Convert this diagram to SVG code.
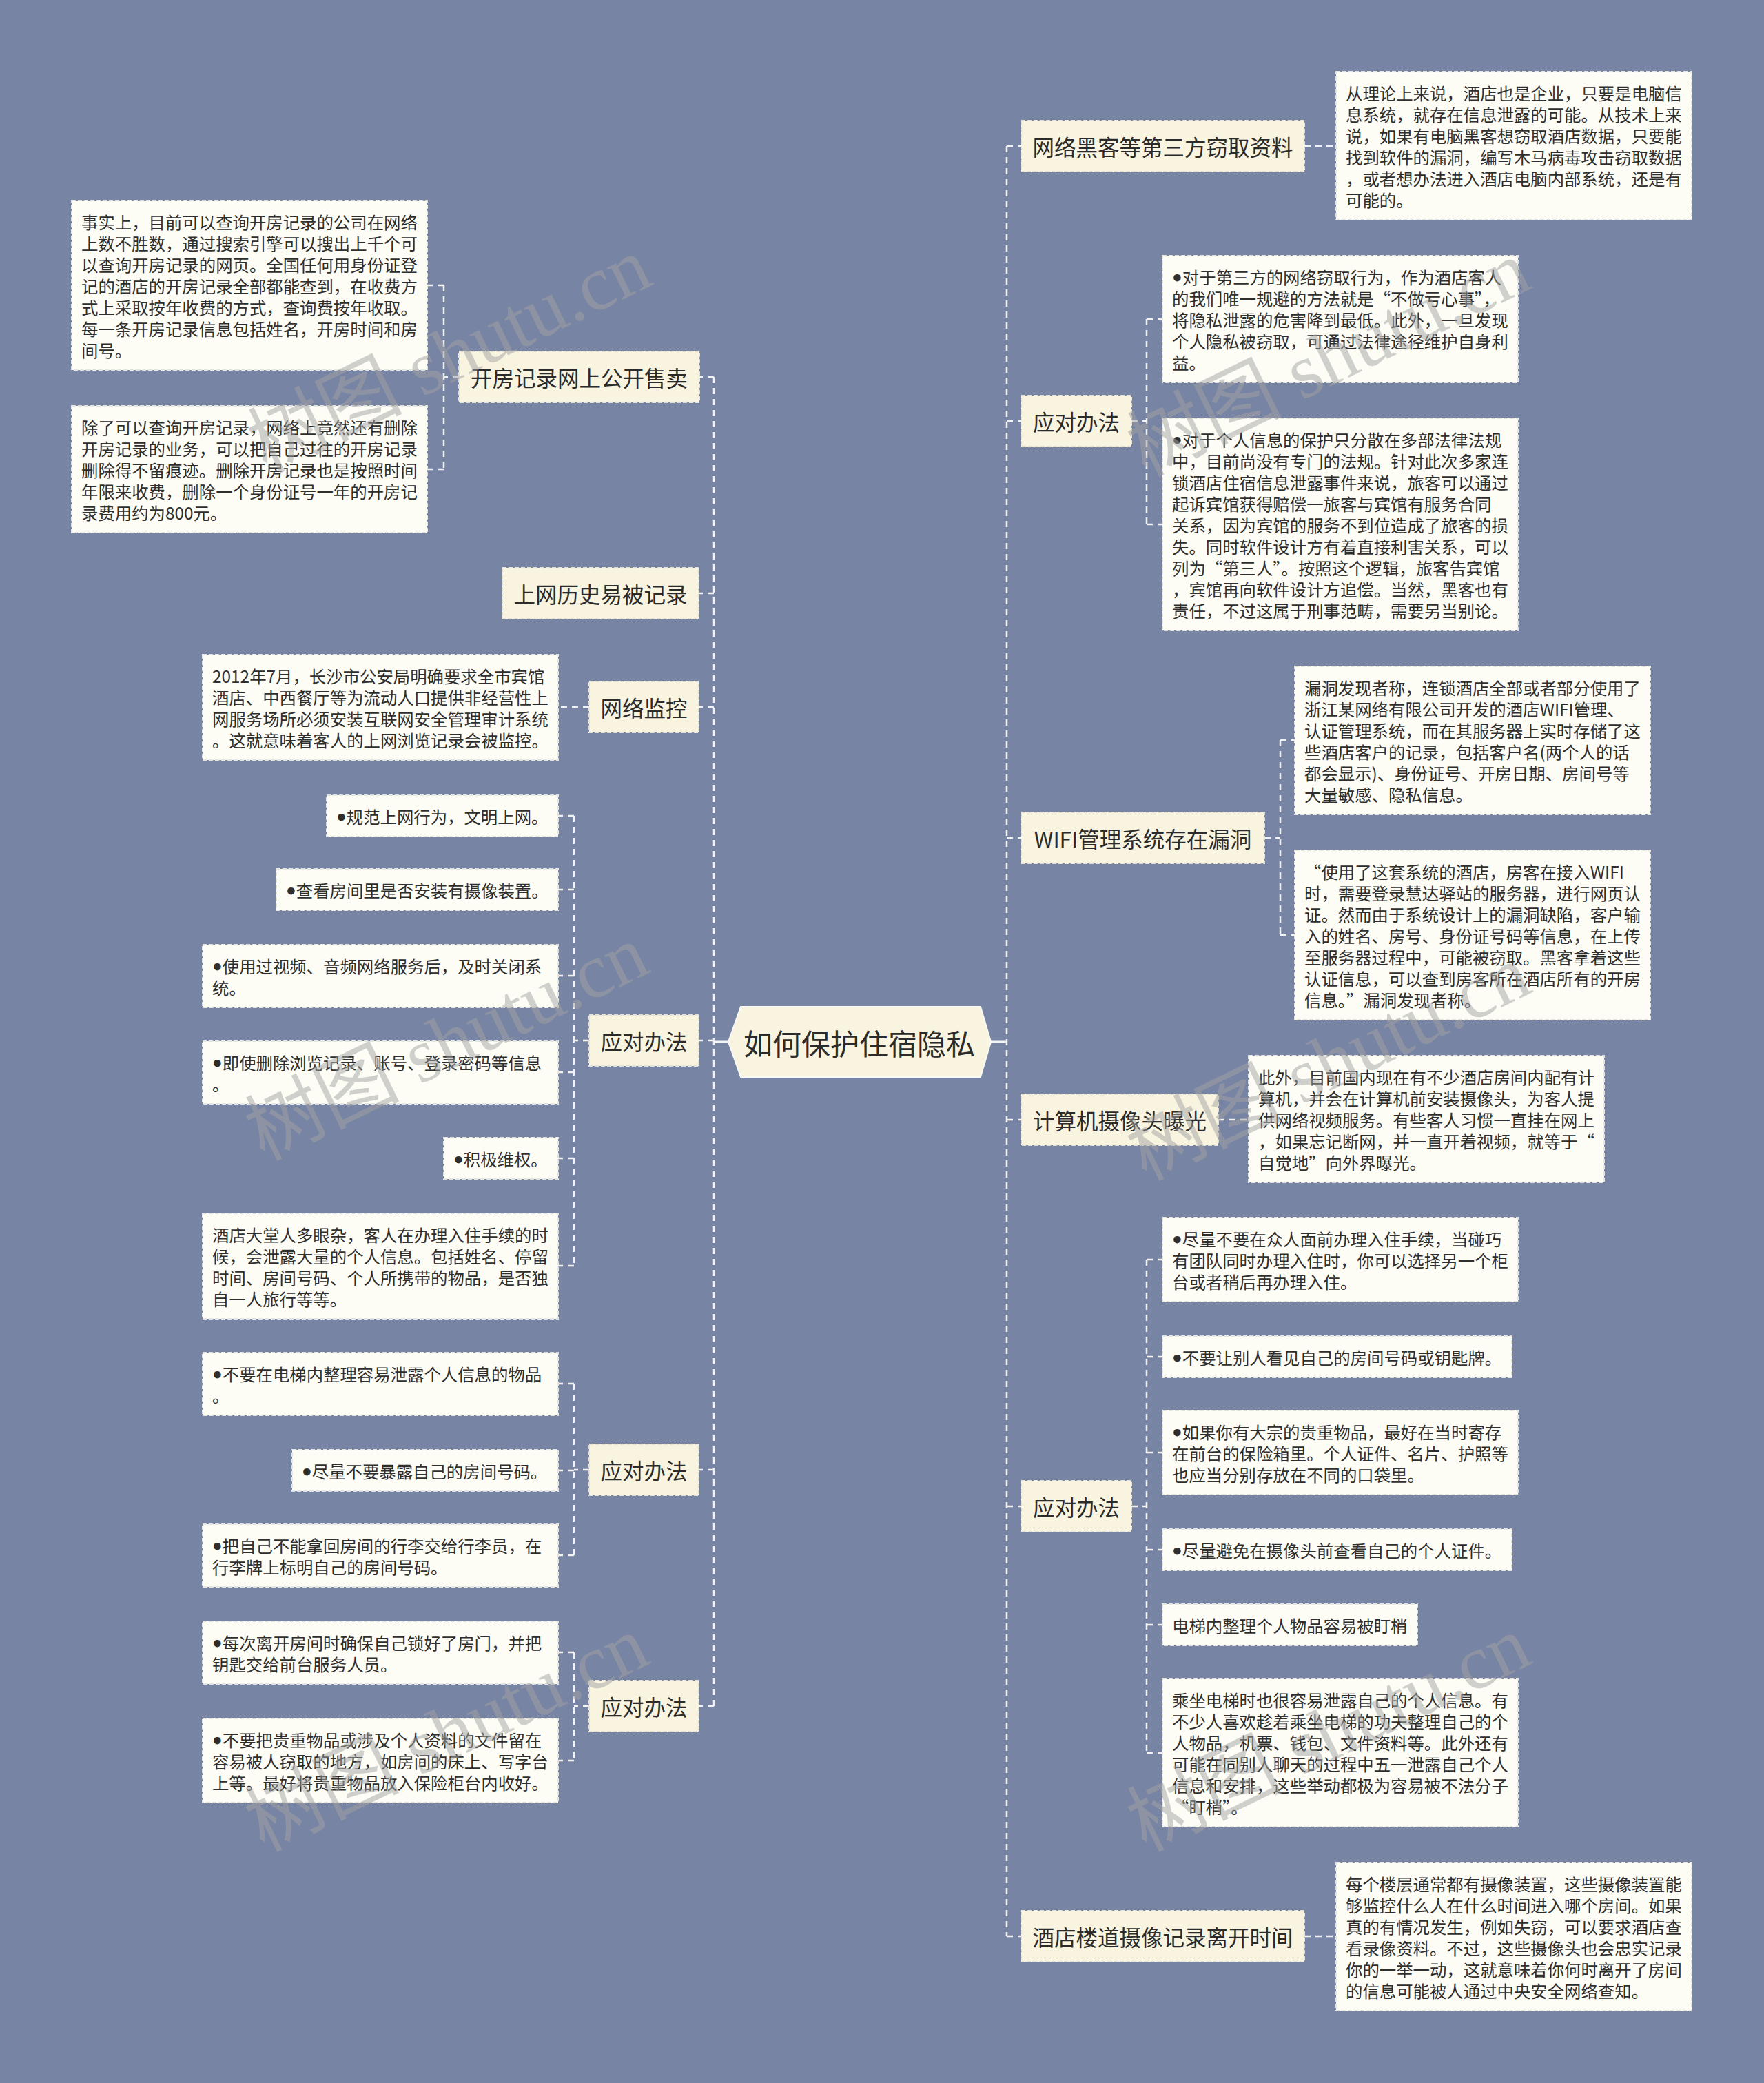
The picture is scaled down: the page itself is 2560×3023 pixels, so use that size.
<svg xmlns="http://www.w3.org/2000/svg" width="2560" height="3023" viewBox="0 0 2560 3023">
<style>
.br{fill:#f8f4e0;stroke:#e4e2d6;stroke-width:2;stroke-dasharray:6 3}
.lf{fill:#fdfdf6;stroke:#e4e4e0;stroke-width:2;stroke-dasharray:6 3}
.ct{fill:#f8f4e0;stroke:#fbfaf2;stroke-width:2}
.bt{font-family:"Noto Sans CJK SC","Liberation Sans",sans-serif;font-size:31.5px;fill:#2b2b2b;text-anchor:middle;dominant-baseline:central}
.lt{font-family:"Noto Sans CJK SC","Liberation Sans",sans-serif;font-size:24.4px;fill:#2e2e2e;dominant-baseline:central}
.b{font-family:"Liberation Sans","DejaVu Sans",sans-serif}
.cn{fill:none;stroke:#f2f2f2;stroke-width:2.5;stroke-dasharray:9 7}
.sl{fill:none;stroke:#f4f4f4;stroke-width:3}
.wm{font-family:"Liberation Serif","Noto Sans CJK SC",serif;font-size:112px;fill:#a3a3a3;opacity:0.5;text-anchor:middle;dominant-baseline:central}
</style>
<rect width="2560" height="3023" fill="#7784a4"/>

<g id="connectors">
<path class="sl" d="M1036 1512H1057M1438 1512H1461"/>
<path class="cn" d="M1461 212V2810M1461 212H1482M1461 611H1482M1461 1216H1482M1461 1625H1482M1461 2186H1482M1461 2810H1482"/>
<path class="cn" d="M1893 212H1939"/>
<path class="cn" d="M1642 611H1664M1664 463V761M1664 463H1687M1664 761H1687"/>
<path class="cn" d="M1835 1216H1858M1858 1074V1357M1858 1074H1879M1858 1357H1879"/>
<path class="cn" d="M1768 1625H1812"/>
<path class="cn" d="M1642 2186H1664M1664 1828V2544M1664 1828H1687M1664 1969H1687M1664 2108H1687M1664 2249H1687M1664 2358H1687M1664 2544H1687"/>
<path class="cn" d="M1893 2810H1939"/>
<path class="cn" d="M1036 547V2476M1036 547H1014M1036 861H1014M1036 1026H1014M1036 1510H1014M1036 2133H1014M1036 2476H1014"/>
<path class="cn" d="M666 547H644M644 414V681M644 414H620M644 681H620"/>
<path class="cn" d="M855 1026H810"/>
<path class="cn" d="M855 1510H833M833 1184V1837M833 1184H810M833 1291H810M833 1416H810M833 1556H810M833 1681H810M833 1837H810"/>
<path class="cn" d="M855 2133H833M833 2008V2257M833 2008H810M833 2134H810M833 2257H810"/>
<path class="cn" d="M855 2476H833M833 2398V2555M833 2398H810M833 2555H810"/>
</g>

<g id="center">
<polygon class="ct" points="1057,1512 1075,1461 1423,1461 1438,1512 1423,1563 1075,1563"/>
<text class="bt" x="1247" y="1512" style="font-size:42px">如何保护住宿隐私</text>
</g>

<g id="r-hacker">
<rect class="br" x="1482" y="175" width="411" height="74"/>
<text class="bt" x="1687.5" y="212">网络黑客等第三方窃取资料</text>
</g>
<g id="r-hacker-text">
<rect class="lf" x="1939" y="104" width="516" height="215"/>
<text class="lt" x="1953" y="134"><tspan x="1953">从理论上来说，酒店也是企业，只要是电脑信</tspan><tspan x="1953" dy="31">息系统，就存在信息泄露的可能。从技术上来</tspan><tspan x="1953" dy="31">说，如果有电脑黑客想窃取酒店数据，只要能</tspan><tspan x="1953" dy="31">找到软件的漏洞，编写木马病毒攻击窃取数据</tspan><tspan x="1953" dy="31">，或者想办法进入酒店电脑内部系统，还是有</tspan><tspan x="1953" dy="31">可能的。</tspan></text>
</g>

<g id="r-yd1">
<rect class="br" x="1482" y="574" width="160" height="74"/>
<text class="bt" x="1562" y="611">应对办法</text>
</g>
<g id="r-yd1-a">
<rect class="lf" x="1687" y="371" width="516" height="184"/>
<text class="lt" x="1701" y="401"><tspan x="1701"><tspan class="b">●</tspan>对于第三方的网络窃取行为，作为酒店客人</tspan><tspan x="1701" dy="31">的我们唯一规避的方法就是“不做亏心事”，</tspan><tspan x="1701" dy="31">将隐私泄露的危害降到最低。此外，一旦发现</tspan><tspan x="1701" dy="31">个人隐私被窃取，可通过法律途径维护自身利</tspan><tspan x="1701" dy="31">益。</tspan></text>
</g>
<g id="r-yd1-b">
<rect class="lf" x="1687" y="607" width="516" height="308"/>
<text class="lt" x="1701" y="637"><tspan x="1701"><tspan class="b">●</tspan>对于个人信息的保护只分散在多部法律法规</tspan><tspan x="1701" dy="31">中，目前尚没有专门的法规。针对此次多家连</tspan><tspan x="1701" dy="31">锁酒店住宿信息泄露事件来说，旅客可以通过</tspan><tspan x="1701" dy="31">起诉宾馆获得赔偿一旅客与宾馆有服务合同</tspan><tspan x="1701" dy="31">关系，因为宾馆的服务不到位造成了旅客的损</tspan><tspan x="1701" dy="31">失。同时软件设计方有着直接利害关系，可以</tspan><tspan x="1701" dy="31">列为“第三人”。按照这个逻辑，旅客告宾馆</tspan><tspan x="1701" dy="31">，宾馆再向软件设计方追偿。当然，黑客也有</tspan><tspan x="1701" dy="31">责任，不过这属于刑事范畴，需要另当别论。</tspan></text>
</g>

<g id="r-wifi">
<rect class="br" x="1482" y="1179" width="353" height="74"/>
<text class="bt" x="1658.5" y="1216">WIFI管理系统存在漏洞</text>
</g>
<g id="r-wifi-a">
<rect class="lf" x="1879" y="967" width="516" height="215"/>
<text class="lt" x="1893" y="997"><tspan x="1893">漏洞发现者称，连锁酒店全部或者部分使用了</tspan><tspan x="1893" dy="31">浙江某网络有限公司开发的酒店WIFI管理、</tspan><tspan x="1893" dy="31">认证管理系统，而在其服务器上实时存储了这</tspan><tspan x="1893" dy="31">些酒店客户的记录，包括客户名(两个人的话</tspan><tspan x="1893" dy="31">都会显示)、身份证号、开房日期、房间号等</tspan><tspan x="1893" dy="31">大量敏感、隐私信息。</tspan></text>
</g>
<g id="r-wifi-b">
<rect class="lf" x="1879" y="1234" width="516" height="246"/>
<text class="lt" x="1893" y="1264"><tspan x="1893">“使用了这套系统的酒店，房客在接入WIFI</tspan><tspan x="1893" dy="31">时，需要登录慧达驿站的服务器，进行网页认</tspan><tspan x="1893" dy="31">证。然而由于系统设计上的漏洞缺陷，客户输</tspan><tspan x="1893" dy="31">入的姓名、房号、身份证号码等信息，在上传</tspan><tspan x="1893" dy="31">至服务器过程中，可能被窃取。黑客拿着这些</tspan><tspan x="1893" dy="31">认证信息，可以查到房客所在酒店所有的开房</tspan><tspan x="1893" dy="31">信息。”漏洞发现者称。</tspan></text>
</g>

<g id="r-cam">
<rect class="br" x="1482" y="1588" width="286" height="74"/>
<text class="bt" x="1625" y="1625">计算机摄像头曝光</text>
</g>
<g id="r-cam-a">
<rect class="lf" x="1812" y="1532" width="516" height="184"/>
<text class="lt" x="1826" y="1562"><tspan x="1826">此外，目前国内现在有不少酒店房间内配有计</tspan><tspan x="1826" dy="31">算机，并会在计算机前安装摄像头，为客人提</tspan><tspan x="1826" dy="31">供网络视频服务。有些客人习惯一直挂在网上</tspan><tspan x="1826" dy="31">，如果忘记断网，并一直开着视频，就等于“</tspan><tspan x="1826" dy="31">自觉地”向外界曝光。</tspan></text>
</g>

<g id="r-yd2">
<rect class="br" x="1482" y="2149" width="160" height="74"/>
<text class="bt" x="1562" y="2186">应对办法</text>
</g>
<g id="r-yd2-a">
<rect class="lf" x="1687" y="1767" width="516" height="122"/>
<text class="lt" x="1701" y="1797"><tspan x="1701"><tspan class="b">●</tspan>尽量不要在众人面前办理入住手续，当碰巧</tspan><tspan x="1701" dy="31">有团队同时办理入住时，你可以选择另一个柜</tspan><tspan x="1701" dy="31">台或者稍后再办理入住。</tspan></text>
</g>
<g id="r-yd2-b">
<rect class="lf" x="1687" y="1939" width="507" height="60"/>
<text class="lt" x="1701" y="1969"><tspan class="b">●</tspan>不要让别人看见自己的房间号码或钥匙牌。</text>
</g>
<g id="r-yd2-c">
<rect class="lf" x="1687" y="2047" width="516" height="122"/>
<text class="lt" x="1701" y="2077"><tspan x="1701"><tspan class="b">●</tspan>如果你有大宗的贵重物品，最好在当时寄存</tspan><tspan x="1701" dy="31">在前台的保险箱里。个人证件、名片、护照等</tspan><tspan x="1701" dy="31">也应当分别存放在不同的口袋里。</tspan></text>
</g>
<g id="r-yd2-d">
<rect class="lf" x="1687" y="2219" width="507" height="60"/>
<text class="lt" x="1701" y="2249"><tspan class="b">●</tspan>尽量避免在摄像头前查看自己的个人证件。</text>
</g>
<g id="r-yd2-e">
<rect class="lf" x="1687" y="2328" width="370" height="60"/>
<text class="lt" x="1701" y="2358">电梯内整理个人物品容易被盯梢</text>
</g>
<g id="r-yd2-f">
<rect class="lf" x="1687" y="2436" width="516" height="215"/>
<text class="lt" x="1701" y="2466"><tspan x="1701">乘坐电梯时也很容易泄露自己的个人信息。有</tspan><tspan x="1701" dy="31">不少人喜欢趁着乘坐电梯的功夫整理自己的个</tspan><tspan x="1701" dy="31">人物品，机票、钱包、文件资料等。此外还有</tspan><tspan x="1701" dy="31">可能在同别人聊天的过程中五一泄露自己个人</tspan><tspan x="1701" dy="31">信息和安排，这些举动都极为容易被不法分子</tspan><tspan x="1701" dy="31">“盯梢”。</tspan></text>
</g>

<g id="r-hall">
<rect class="br" x="1482" y="2773" width="411" height="74"/>
<text class="bt" x="1687.5" y="2810">酒店楼道摄像记录离开时间</text>
</g>
<g id="r-hall-a">
<rect class="lf" x="1939" y="2703" width="516" height="215"/>
<text class="lt" x="1953" y="2733"><tspan x="1953">每个楼层通常都有摄像装置，这些摄像装置能</tspan><tspan x="1953" dy="31">够监控什么人在什么时间进入哪个房间。如果</tspan><tspan x="1953" dy="31">真的有情况发生，例如失窃，可以要求酒店查</tspan><tspan x="1953" dy="31">看录像资料。不过，这些摄像头也会忠实记录</tspan><tspan x="1953" dy="31">你的一举一动，这就意味着你何时离开了房间</tspan><tspan x="1953" dy="31">的信息可能被人通过中央安全网络查知。</tspan></text>
</g>

<g id="l-kf">
<rect class="br" x="666" y="510" width="349" height="74"/>
<text class="bt" x="840.5" y="547">开房记录网上公开售卖</text>
</g>
<g id="l-kf-a">
<rect class="lf" x="104" y="291" width="516" height="246"/>
<text class="lt" x="118" y="321"><tspan x="118">事实上，目前可以查询开房记录的公司在网络</tspan><tspan x="118" dy="31">上数不胜数，通过搜索引擎可以搜出上千个可</tspan><tspan x="118" dy="31">以查询开房记录的网页。全国任何用身份证登</tspan><tspan x="118" dy="31">记的酒店的开房记录全部都能查到，在收费方</tspan><tspan x="118" dy="31">式上采取按年收费的方式，查询费按年收取。</tspan><tspan x="118" dy="31">每一条开房记录信息包括姓名，开房时间和房</tspan><tspan x="118" dy="31">间号。</tspan></text>
</g>
<g id="l-kf-b">
<rect class="lf" x="104" y="589" width="516" height="184"/>
<text class="lt" x="118" y="619"><tspan x="118">除了可以查询开房记录，网络上竟然还有删除</tspan><tspan x="118" dy="31">开房记录的业务，可以把自己过往的开房记录</tspan><tspan x="118" dy="31">删除得不留痕迹。删除开房记录也是按照时间</tspan><tspan x="118" dy="31">年限来收费，删除一个身份证号一年的开房记</tspan><tspan x="118" dy="31">录费用约为800元。</tspan></text>
</g>

<g id="l-sw">
<rect class="br" x="729" y="824" width="285" height="74"/>
<text class="bt" x="871.5" y="861">上网历史易被记录</text>
</g>

<g id="l-jk">
<rect class="br" x="855" y="989" width="159" height="74"/>
<text class="bt" x="934.5" y="1026">网络监控</text>
</g>
<g id="l-jk-a">
<rect class="lf" x="294" y="950" width="516" height="153"/>
<text class="lt" x="308" y="980"><tspan x="308">2012年7月，长沙市公安局明确要求全市宾馆</tspan><tspan x="308" dy="31">酒店、中西餐厅等为流动人口提供非经营性上</tspan><tspan x="308" dy="31">网服务场所必须安装互联网安全管理审计系统</tspan><tspan x="308" dy="31">。这就意味着客人的上网浏览记录会被监控。</tspan></text>
</g>

<g id="l-yd1">
<rect class="br" x="855" y="1473" width="159" height="74"/>
<text class="bt" x="934.5" y="1510">应对办法</text>
</g>
<g id="l-yd1-a">
<rect class="lf" x="474" y="1154" width="336" height="60"/>
<text class="lt" x="488" y="1184"><tspan class="b">●</tspan>规范上网行为，文明上网。</text>
</g>
<g id="l-yd1-b">
<rect class="lf" x="401" y="1261" width="409" height="60"/>
<text class="lt" x="415" y="1291"><tspan class="b">●</tspan>查看房间里是否安装有摄像装置。</text>
</g>
<g id="l-yd1-c">
<rect class="lf" x="294" y="1371" width="516" height="91"/>
<text class="lt" x="308" y="1401"><tspan x="308"><tspan class="b">●</tspan>使用过视频、音频网络服务后，及时关闭系</tspan><tspan x="308" dy="31">统。</tspan></text>
</g>
<g id="l-yd1-d">
<rect class="lf" x="294" y="1511" width="516" height="91"/>
<text class="lt" x="308" y="1541"><tspan x="308"><tspan class="b">●</tspan>即使删除浏览记录、账号、登录密码等信息</tspan><tspan x="308" dy="31">。</tspan></text>
</g>
<g id="l-yd1-e">
<rect class="lf" x="644" y="1651" width="166" height="60"/>
<text class="lt" x="658" y="1681"><tspan class="b">●</tspan>积极维权。</text>
</g>
<g id="l-yd1-f">
<rect class="lf" x="294" y="1761" width="516" height="153"/>
<text class="lt" x="308" y="1791"><tspan x="308">酒店大堂人多眼杂，客人在办理入住手续的时</tspan><tspan x="308" dy="31">候，会泄露大量的个人信息。包括姓名、停留</tspan><tspan x="308" dy="31">时间、房间号码、个人所携带的物品，是否独</tspan><tspan x="308" dy="31">自一人旅行等等。</tspan></text>
</g>

<g id="l-yd2">
<rect class="br" x="855" y="2096" width="159" height="74"/>
<text class="bt" x="934.5" y="2133">应对办法</text>
</g>
<g id="l-yd2-a">
<rect class="lf" x="294" y="1963" width="516" height="91"/>
<text class="lt" x="308" y="1993"><tspan x="308"><tspan class="b">●</tspan>不要在电梯内整理容易泄露个人信息的物品</tspan><tspan x="308" dy="31">。</tspan></text>
</g>
<g id="l-yd2-b">
<rect class="lf" x="424" y="2104" width="386" height="60"/>
<text class="lt" x="438" y="2134"><tspan class="b">●</tspan>尽量不要暴露自己的房间号码。</text>
</g>
<g id="l-yd2-c">
<rect class="lf" x="294" y="2212" width="516" height="91"/>
<text class="lt" x="308" y="2242"><tspan x="308"><tspan class="b">●</tspan>把自己不能拿回房间的行李交给行李员，在</tspan><tspan x="308" dy="31">行李牌上标明自己的房间号码。</tspan></text>
</g>

<g id="l-yd3">
<rect class="br" x="855" y="2439" width="159" height="74"/>
<text class="bt" x="934.5" y="2476">应对办法</text>
</g>
<g id="l-yd3-a">
<rect class="lf" x="294" y="2353" width="516" height="91"/>
<text class="lt" x="308" y="2383"><tspan x="308"><tspan class="b">●</tspan>每次离开房间时确保自己锁好了房门，并把</tspan><tspan x="308" dy="31">钥匙交给前台服务人员。</tspan></text>
</g>
<g id="l-yd3-b">
<rect class="lf" x="294" y="2494" width="516" height="122"/>
<text class="lt" x="308" y="2524"><tspan x="308"><tspan class="b">●</tspan>不要把贵重物品或涉及个人资料的文件留在</tspan><tspan x="308" dy="31">容易被人窃取的地方，如房间的床上、写字台</tspan><tspan x="308" dy="31">上等。最好将贵重物品放入保险柜台内收好。</tspan></text>
</g>

<g id="watermarks">
<text class="wm" transform="translate(652,515) rotate(-26)">树图 shutu.cn</text>
<text class="wm" transform="translate(1928,520) rotate(-26)">树图 shutu.cn</text>
<text class="wm" transform="translate(648,1513) rotate(-26)">树图 shutu.cn</text>
<text class="wm" transform="translate(1928,1542) rotate(-26)">树图 shutu.cn</text>
<text class="wm" transform="translate(648,2516) rotate(-26)">树图 shutu.cn</text>
<text class="wm" transform="translate(1928,2516) rotate(-26)">树图 shutu.cn</text>
</g>
</svg>
